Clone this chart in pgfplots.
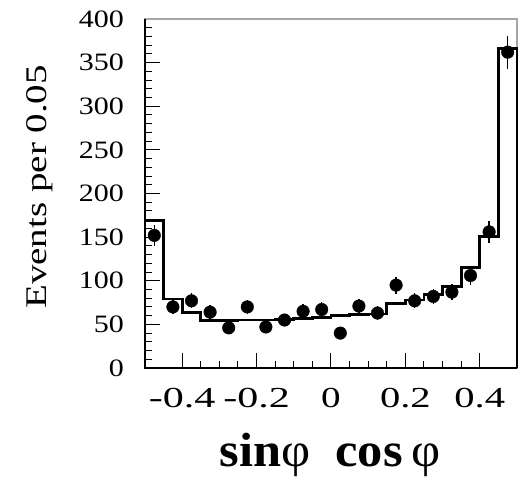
\documentclass[border=0pt]{standalone}
\usepackage{fontspec}
\setmainfont{Liberation Serif}
\usepackage{graphicx}
\usepackage{pgfplots}
\pgfplotsset{compat=1.18}
\pgfplotstableread{
x y e
-0.475 152 12.3
-0.425 70 8.4
-0.375 77 8.8
-0.325 64 8.0
-0.275 46 6.8
-0.225 70 8.4
-0.175 47 6.9
-0.125 55 7.4
-0.075 65 8.1
-0.025 67 8.2
0.025 40 6.3
0.075 71 8.4
0.125 63 7.9
0.175 95 9.7
0.225 77 8.8
0.275 82 9.1
0.325 87 9.3
0.375 106 10.3
0.425 156 12.5
0.475 362 19.0
}\datatable
\pgfplotstableread{
x y
-0.50 0
-0.50 169
-0.45 79
-0.40 64
-0.35 54
-0.30 54
-0.25 55
-0.20 55
-0.15 56
-0.10 57
-0.05 58
0.00 60
0.05 61
0.10 62
0.15 74
0.20 78
0.25 84
0.30 93
0.35 115
0.40 151
0.45 366
0.50 366
0.50 0
}\histtable
\begin{document}
\begin{tikzpicture}
\useasboundingbox (-145pt,-111pt) rectangle (377pt,368pt);
\begin{axis}[
  at={(0,0)}, anchor=south west,
  scale only axis, width=372pt, height=349pt,
  xmin=-0.5, xmax=0.5, ymin=0, ymax=400,
  xtick={-0.4,-0.2,0,0.2,0.4},
  xticklabels={\scalebox{1.45}[1]{-0.4},\scalebox{1.45}[1]{-0.2},\scalebox{1.35}[1]{0},\scalebox{1.4}[1]{0.2},\scalebox{1.4}[1]{0.4}},
  minor x tick num=3,
  ytick={0,50,100,150,200,250,300,350,400},
  yticklabels={\scalebox{1.2}[1]{0},\scalebox{1.2}[1]{50},\scalebox{1.2}[1]{100},\scalebox{1.2}[1]{150},\scalebox{1.2}[1]{200},\scalebox{1.2}[1]{250},\scalebox{1.2}[1]{300},\scalebox{1.2}[1]{350},\scalebox{1.2}[1]{400}},
  minor y tick num=4,
  tick pos=left,
  tick align=inside,
  major tick length=15pt, minor tick length=7.5pt,
  tick style={black, line width=1pt},
  axis line style={gray!70, line width=1.2pt},
  xticklabel style={font=\fontsize{29}{29}\selectfont, anchor=base, inner sep=0pt, yshift=-39pt},
  yticklabel style={font=\fontsize{25}{25}\selectfont, anchor=east, inner sep=0pt, xshift=-21pt},
  xlabel={\scalebox{1.05}[1]{\bfseries sin\mdseries φ\ \ \bfseries cos\,\mdseries φ}},
  xlabel style={font=\fontsize{48}{48}\selectfont, at={(axis description cs:0.497,-0.282)}, anchor=base, inner sep=0pt},
  ylabel={\scalebox{1.3}[1]{Events per 0.05}},
  ylabel style={font=\fontsize{30}{30}\selectfont, at={(axis description cs:-0.264,0.519)}, anchor=base, rotate=0, inner sep=0pt},
  clip=false,
]
\addplot[const plot, black, line width=2.8pt] table[x=x,y=y] {\histtable};
\addplot[only marks, mark=*, black, mark size=6.3pt,
  error bars/.cd, y dir=both, y explicit, error mark=none,
  error bar style={line width=1.5pt, black}] table[x=x,y=y,y error=e] {\datatable};
\draw[black, line width=2pt] (rel axis cs:0,1) -- (rel axis cs:0,0) -- (rel axis cs:1,0);
\end{axis}
\end{tikzpicture}
\end{document}
